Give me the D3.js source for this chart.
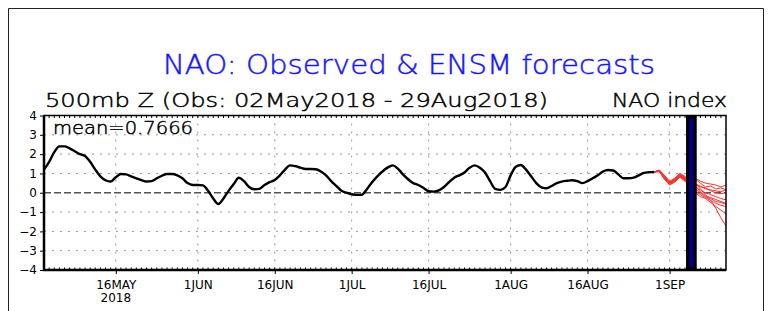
<!DOCTYPE html>
<html><head><meta charset="utf-8">
<script src="https://cdn.jsdelivr.net/npm/d3@7"></script>
<style>html,body{margin:0;padding:0;background:#fff;}svg{display:block;}</style>
</head><body>
<script>
// ---- data ----
const titleText = "NAO: Observed & ENSM forecasts";
const subtitleText = "500mb Z (Obs: 02May2018 - 29Aug2018)";
const rightLabel = "NAO index";
const meanText = "mean=0.7666";
const obsStart = "2018-05-02";
const obsValues = [
 1.2,1.6,2.1,2.4,2.4,2.3,2.15,2.0,1.9,1.6,
 1.2,0.85,0.65,0.58,0.8,0.97,0.95,0.85,0.75,0.65,
 0.58,0.6,0.75,0.88,0.97,0.97,0.9,0.75,0.5,0.4,
 0.4,0.38,0.1,-0.3,-0.58,-0.3,0.1,0.45,0.78,0.6,
 0.3,0.18,0.2,0.4,0.55,0.66,0.9,1.2,1.42,1.38,
 1.3,1.23,1.23,1.22,1.1,0.9,0.6,0.35,0.1,0.0,
 -0.08,-0.11,-0.1,0.2,0.55,0.85,1.1,1.3,1.42,1.25,
 0.95,0.7,0.5,0.4,0.25,0.08,0.06,0.12,0.3,0.55,
 0.78,0.9,1.05,1.3,1.42,1.3,1.05,0.6,0.2,0.15,
 0.3,0.9,1.35,1.44,1.2,0.85,0.5,0.28,0.23,0.35,
 0.5,0.58,0.62,0.65,0.6,0.5,0.6,0.75,0.9,1.1,
 1.18,1.15,0.95,0.75,0.75,0.78,0.9,1.03,1.06,1.08];
const fcstStart = "2018-08-29";
const members = [
 [1.08,1.15,0.85,0.55,0.65,0.95,0.8,0.7,0.75,0.6,0.5,0.45,0.4,0.3,0.4],
 [1.08,1.1,0.75,0.45,0.7,0.9,0.7,0.5,0.45,0.35,0.2,0.15,0.1,0.05,0.15],
 [1.08,1.12,0.8,0.5,0.6,0.85,0.65,0.4,0.3,0.15,0.0,-0.1,-0.2,-0.3,-0.37],
 [1.08,1.1,0.7,0.4,0.55,0.8,0.6,0.3,0.1,-0.1,-0.25,-0.4,-0.55,-0.65,-0.72],
 [1.08,1.18,0.9,0.6,0.75,1.0,0.85,0.6,0.5,0.2,-0.1,-0.4,-0.8,-1.3,-1.72],
 [1.08,1.13,0.78,0.5,0.68,0.92,0.72,0.55,0.4,0.3,0.25,0.1,0.0,-0.05,0.0],
 [1.08,1.16,0.82,0.48,0.62,0.88,0.7,0.45,0.2,0.0,-0.2,-0.3,-0.45,-0.5,-0.6],
 [1.08,1.1,0.72,0.42,0.58,0.82,0.62,0.65,0.7,0.5,0.3,0.35,0.2,0.25,0.15],
 [1.08,1.14,0.88,0.55,0.72,0.98,0.78,0.5,0.35,0.05,-0.15,-0.25,-0.35,-0.45,-0.55],
 [1.08,1.12,0.76,0.52,0.66,0.9,0.68,0.35,0.0,-0.2,-0.3,-0.5,-0.7,-0.9,-1.1]];
const barRange = ["2018-09-04T12:00Z","2018-09-06T00:00Z"];
const xDomain = ["2018-05-02","2018-09-12"];
const tickDates = ["2018-05-16","2018-06-01","2018-06-16","2018-07-01","2018-07-16","2018-08-01","2018-08-16","2018-09-01"];
const tickLabels = ["16MAY","1JUN","16JUN","1JUL","16JUL","1AUG","16AUG","1SEP"];
const yearLabel = "2018";
const yTicks = [4,3,2,1,0,-1,-2,-3,-4];

// ---- layout ----
const W = 772, H = 311;
const L = 44, R = 726, T = 115.5, B = 270;
const DAY = 864e5;
const pd = s => new Date(s.length === 10 ? s + "T00:00Z" : s);
const FONT = "'DejaVu Sans', sans-serif";

const svg = d3.select("body").append("svg").attr("width", W).attr("height", H)
  .style("font-family", FONT);

// outer frame
svg.append("path").attr("d", `M8.5,${H}V8.5H763.5V${H}`).attr("fill","none").attr("stroke","#222").attr("stroke-width",1);

const x = d3.scaleUtc().domain(xDomain.map(pd)).range([L, R]);
const y = d3.scaleLinear().domain([-4, 4]).range([B, T]);

// grid
const g = svg.append("g");
g.selectAll("line.hg").data(yTicks.filter(v => v !== 0 && Math.abs(v) !== 4)).join("line")
  .attr("x1", L).attr("x2", R).attr("y1", d => y(d)).attr("y2", d => y(d))
  .attr("stroke", "#999").attr("stroke-width", 1).attr("stroke-dasharray", "2,6");
g.selectAll("line.vg").data(tickDates).join("line")
  .attr("x1", d => x(pd(d))).attr("x2", d => x(pd(d))).attr("y1", T).attr("y2", B)
  .attr("stroke", "#999").attr("stroke-width", 1).attr("stroke-dasharray", "2,6");
g.append("line").attr("x1", L).attr("x2", R).attr("y1", y(0)).attr("y2", y(0))
  .attr("stroke", "#555").attr("stroke-width", 1.5).attr("stroke-dasharray", "7,3");

// ensemble
const f0 = pd(fcstStart).getTime();
const fl = d3.line().x((d, i) => x(new Date(f0 + i * DAY))).y(d => y(d)).curve(d3.curveLinear);
svg.append("g").selectAll("path").data(members).join("path")
  .attr("d", fl).attr("fill", "none").attr("stroke", "#ff3030").attr("stroke-width", 1);

// observed
const o0 = pd(obsStart).getTime();
const ol = d3.line().x((d, i) => x(new Date(o0 + i * DAY))).y(d => y(d)).curve(d3.curveMonotoneX);
svg.append("path").attr("d", ol(obsValues)).attr("fill", "none").attr("stroke", "#000")
  .attr("stroke-width", 2.4).attr("stroke-linejoin", "round");

// bar
const bx0 = x(pd(barRange[0])), bx1 = x(pd(barRange[1]));
svg.append("rect").attr("x", bx0).attr("y", T + 1.5).attr("width", bx1 - bx0).attr("height", B - T - 3)
  .attr("fill", "#000080").attr("stroke", "#000").attr("stroke-width", 3);

// minor daily ticks
const days = d3.utcDay.range(pd(xDomain[0]), pd(xDomain[1]));
svg.append("g").selectAll("line").data(days).join("line")
  .attr("x1", d => x(d)).attr("x2", d => x(d)).attr("y1", B).attr("y2", B - 2.5)
  .attr("stroke", "#000").attr("stroke-width", 1);
svg.append("g").selectAll("line").data(days).join("line")
  .attr("x1", d => x(d)).attr("x2", d => x(d)).attr("y1", T).attr("y2", T + 2.5)
  .attr("stroke", "#000").attr("stroke-width", 1);

// axes
const yAxis = d3.axisLeft(y).tickValues(yTicks).tickSize(4).tickPadding(3);
const ya = svg.append("g").attr("transform", `translate(${L},0)`).call(yAxis);
ya.select(".domain").remove();
ya.selectAll("text").attr("font-size", 12).attr("font-family", FONT).attr("fill", "#000");
ya.selectAll("line").attr("stroke", "#000");

const xAxis = d3.axisBottom(x).tickValues(tickDates.map(pd)).tickSize(4)
  .tickFormat((d, i) => tickLabels[i]).tickPadding(6);
const xa = svg.append("g").attr("transform", `translate(0,${B})`).call(xAxis);
xa.select(".domain").remove();
xa.selectAll("text").attr("font-size", 12).attr("font-family", FONT).attr("fill", "#000");
xa.selectAll("line").attr("stroke", "#000");
svg.append("text").attr("x", x(pd(tickDates[0]))).attr("y", 302).attr("text-anchor", "middle")
  .attr("font-size", 12).text(yearLabel);

// frame of plot
svg.append("rect").attr("x", L).attr("y", T).attr("width", R - L).attr("height", B - T)
  .attr("fill", "none").attr("stroke", "#000").attr("stroke-width", 1.5);
svg.append("path").attr("d", `M${L},${T}V${B}H${R}`).attr("fill", "none").attr("stroke", "#000").attr("stroke-width", 2.5);

// texts
function label(txt, xx, yy, size, len, color) {
  svg.append("text").attr("x", xx).attr("y", yy).attr("font-size", size)
    .attr("fill", color).attr("stroke", color).attr("stroke-width", 0.45)
    .attr("font-weight", 200)
    .attr("textLength", len).attr("lengthAdjust", "spacingAndGlyphs").text(txt);
}
label(titleText, 163, 74, 27, 492, "#1414ff");
label(subtitleText, 45, 107, 19, 503, "#000");
label(rightLabel, 612, 107, 19, 115, "#000");
label(meanText, 53, 134, 17, 140, "#000");
</script>
</body></html>
